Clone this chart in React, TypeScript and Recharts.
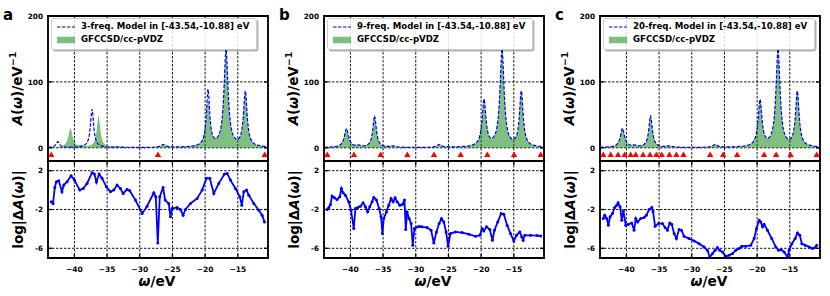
import {
  Area,
  CartesianGrid,
  ComposedChart,
  Line,
  ReferenceArea,
  Scatter,
  XAxis,
  YAxis,
} from "recharts";

const FONT = '"DejaVu Sans", sans-serif';
const BLUE = "#0000ff";
const X_DOMAIN: [number, number] = [-44.04, -10.38];
const X_TICKS = [-40, -35, -30, -25, -20, -15];
const TOP_TICKS = [0, 100, 200];
const BOTTOM_TICKS = [2, -2, -6];
const RANGE_TEXT = "[-43.54,-10.88] eV";

// reference spectral function GFCCSD/cc-pVDZ (shared by the three panels)
const refOmega = [
  -44.0, -43.3, -42.7, -42.2, -41.8, -41.5, -41.25, -41.05, -40.9, -40.75,
  -40.6, -40.45, -40.3, -40.15, -39.95, -39.7, -39.4, -39.1, -38.8, -38.5,
  -38.1, -37.7, -37.3, -37.0, -36.8, -36.6, -36.45, -36.3, -36.15, -36.0,
  -35.8, -35.6, -35.3, -34.9, -34.5, -34.1, -33.75, -33.5, -33.2, -32.8,
  -32.2, -31.5, -30.5, -29.5, -28.5, -27.8, -27.3, -27.0, -26.75, -26.55,
  -26.4, -26.25, -26.05, -25.8, -25.5, -25.0, -24.0, -23.0, -22.0, -21.5,
  -21.0, -20.7, -20.45, -20.25, -20.05, -19.9, -19.75, -19.65, -19.55, -19.45,
  -19.35, -19.2, -19.0, -18.75, -18.45, -18.15, -17.9, -17.65, -17.4, -17.2,
  -17.05, -16.93, -16.8, -16.67, -16.55, -16.4, -16.2, -15.95, -15.65, -15.35,
  -15.1, -14.85, -14.6, -14.4, -14.2, -14.05, -13.95, -13.85, -13.75, -13.65,
  -13.5, -13.3, -13.05, -12.75, -12.4, -12.0, -11.5, -11.0, -10.4,
];
const refA = [
  0.9, 1.1, 1.5, 2.2, 3.3, 5.1, 8.1, 12.8, 18.4, 25.8,
  29.7, 25.8, 18.4, 12.9, 8.3, 5.6, 4.2, 4.2, 4.5, 3.7,
  3.1, 3.5, 5.3, 8.9, 14.5, 26.2, 40.0, 49.2, 40.0, 26.2,
  14.5, 8.8, 5.0, 3.0, 2.3, 2.3, 2.85, 3.1, 2.5, 1.6,
  1.1, 0.85, 0.7, 0.65, 0.8, 1.0, 1.5, 2.2, 3.4, 4.7,
  5.2, 4.7, 3.4, 2.2, 1.9, 1.5, 1.55, 2.0, 2.8, 3.8,
  5.75, 8.0, 11.5, 16.4, 25.6, 37.7, 55.4, 67.6, 73.4, 67.8,
  55.8, 39.3, 25.1, 17.2, 14.5, 15.6, 19.7, 27.5, 44.7, 71.8,
  104.8, 133.5, 149.8, 133.6, 105, 71.5, 44.5, 27, 17.7, 13.9,
  12.9, 14.1, 18.2, 26.1, 42.6, 63.9, 79.1, 86, 78.9, 63.3,
  41.4, 24.2, 14.2, 8.7, 5.7, 4.1, 3.0, 2.3, 1.9,
];
const modelB = [
  0.9, 1.1, 1.5, 2.2, 3.3, 5.1, 8.1, 12.8, 18.4, 25.6,
  29.2, 25.6, 18.4, 12.9, 8.3, 5.6, 4.2, 4.2, 4.5, 3.7,
  3.1, 3.5, 5.3, 8.9, 14.5, 26.0, 39.6, 48.6, 39.6, 26.0,
  14.5, 8.8, 5.0, 3.0, 2.3, 2.3, 2.85, 3.1, 2.5, 1.6,
  1.1, 0.85, 0.7, 0.65, 0.8, 1.0, 1.5, 2.2, 3.4, 4.7,
  5.2, 4.7, 3.4, 2.2, 1.9, 1.5, 1.55, 2.0, 2.8, 3.8,
  5.75, 8.0, 11.5, 16.4, 25.6, 37.9, 55.8, 68.2, 74.0, 68.2,
  55.8, 39.3, 25.1, 17.2, 14.5, 15.6, 19.7, 27.5, 44.7, 71.8,
  104.8, 133.5, 149.8, 133.6, 105, 71.5, 44.5, 27, 17.7, 13.9,
  12.9, 14.1, 18.2, 26.1, 42.6, 64.0, 79.4, 86.4, 79.1, 63.3,
  41.4, 24.2, 14.2, 8.7, 5.7, 4.1, 3.0, 2.3, 1.9,
];
const modelC = [
  0.9, 1.1, 1.5, 2.2, 3.3, 5.1, 8.1, 12.8, 18.4, 25.8,
  29.6, 25.8, 18.4, 12.9, 8.3, 5.6, 4.2, 4.2, 4.5, 3.7,
  3.1, 3.5, 5.3, 8.9, 14.5, 26.1, 39.8, 48.9, 39.8, 26.1,
  14.5, 8.8, 5.0, 3.0, 2.3, 2.3, 2.85, 3.1, 2.5, 1.6,
  1.1, 0.85, 0.7, 0.65, 0.8, 1.0, 1.5, 2.2, 3.4, 4.7,
  5.2, 4.7, 3.4, 2.2, 1.9, 1.5, 1.55, 2.0, 2.8, 3.8,
  5.75, 8.0, 11.5, 16.4, 25.6, 37.8, 55.6, 67.9, 73.6, 67.9,
  55.8, 39.3, 25.1, 17.2, 14.5, 15.6, 19.7, 27.5, 44.7, 71.8,
  104.8, 133.5, 149.8, 133.6, 105, 71.5, 44.5, 27, 17.7, 13.9,
  12.9, 14.1, 18.2, 26.1, 42.6, 63.9, 79.2, 86.2, 79.0, 63.3,
  41.4, 24.2, 14.2, 8.7, 5.7, 4.1, 3.0, 2.3, 1.9,
];

// 3-frequency model (panel a) has its own sampling
const modelAOmega = [
  -44.0, -43.5, -43.1, -42.85, -42.7, -42.55, -42.4, -42.25, -42.0, -41.6,
  -41.0, -40.0, -39.2, -38.6, -38.2, -37.9, -37.7, -37.55, -37.4, -37.3,
  -37.2, -37.05, -36.9, -36.7, -36.4, -36.0, -35.4, -34.5, -33.0, -31.0,
  -29.0, -28.0, -27.3, -27.0, -26.75, -26.55, -26.4, -26.25, -26.05, -25.8,
  -25.5, -25.0, -24.0, -23.0, -22.0, -21.5, -21.0, -20.7, -20.45, -20.25,
  -20.05, -19.9, -19.75, -19.65, -19.55, -19.45, -19.35, -19.2, -19.0, -18.75,
  -18.45, -18.15, -17.9, -17.65, -17.4, -17.2, -17.05, -16.93, -16.8, -16.67,
  -16.55, -16.4, -16.2, -15.95, -15.65, -15.35, -15.1, -14.85, -14.6, -14.4,
  -14.2, -14.05, -13.95, -13.85, -13.75, -13.65, -13.5, -13.3, -13.05, -12.75,
  -12.4, -12.0, -11.5, -11.0, -10.4,
];
const modelA = [
  0.9, 1.3, 2.6, 5.0, 7.7, 9.5, 7.7, 5.0, 2.8, 1.6,
  1.2, 1.2, 1.9, 3.4, 6.2, 11.9, 21, 34.3, 52.5, 58.5,
  52.5, 34.3, 21, 11.9, 6.2, 3.4, 1.9, 1.15, 1.0, 0.8,
  0.75, 0.9, 1.5, 2.2, 3.4, 4.7, 5.2, 4.7, 3.4, 2.2,
  1.9, 1.5, 1.5, 1.9, 2.7, 3.6, 5.4, 7.6, 10.9, 15.8,
  25.4, 39.2, 62.3, 80.2, 89, 80.4, 62.5, 40.6, 24.6, 16.7,
  14.0, 15.5, 19.6, 27.4, 44.6, 71.7, 104.7, 133.4, 149.8, 133.6,
  105, 71.5, 44.5, 27, 17.7, 13.9, 12.9, 14.1, 18.2, 26.1,
  42.6, 64.2, 79.5, 86.5, 79.2, 63.5, 41.4, 24.2, 14.2, 8.7,
  5.7, 4.1, 3.0, 2.3, 1.9,
];

// fitting frequencies (red triangles)
const triA = [-43.54, -27.21, -10.88];
const triB = [-43.54, -39.46, -35.38, -31.29, -27.21, -23.13, -19.05, -14.96, -10.88];
const triC = [
  -43.54, -42.4, -41.28, -40.26, -39.34, -38.58, -37.45, -36.38, -35.41, -34.59,
  -33.42, -32.35, -31.27, -27.19, -25.2, -23.06, -18.93, -17.09, -14.89, -10.88,
];

// log|dA(w)|
const errAOmega = [
  -43.54, -43.27, -43.0, -42.76, -42.4, -41.9, -41.63, -41.12, -40.51, -40.0,
  -39.18, -38.67, -38.06, -37.3, -36.94, -36.63, -36.22, -35.77, -35.1, -34.49,
  -33.98, -33.47, -32.96, -32.55, -31.94, -31.53, -30.66, -29.64, -28.88, -27.86,
  -27.55, -27.24, -26.94, -26.43, -26.12, -25.56, -25.31, -25.05, -24.29, -23.78,
  -23.37, -23.01, -22.24, -21.22, -20.46, -19.8, -19.29, -18.67, -17.91, -17.04,
  -16.63, -16.12, -15.36, -14.69, -14.39, -14.08, -13.67, -13.32, -12.55, -11.79,
  -11.28, -10.92,
];
const errA = [
  -1.2, -1.38, 0.28, 0.86, 0.97, -0.17, 0.52, 0.86, 1.48, 1.03,
  0.0, 0.17, 0.69, 1.79, 1.66, 0.83, 1.66, 1.21, 0.34, -0.17,
  0.0, 0.52, 0.17, -0.34, 0.07, -0.07, -1.03, -2.41, -1.66, -0.28,
  -0.69, -5.45, -0.69, 0.28, -1.03, -1.38, -2.76, -1.9, -1.79, -2.0,
  -2.59, -2.0, -1.38, -0.86, 0.0, 1.21, 1.21, -0.34, 0.69, 1.66,
  1.72, 1.03, 0.17, -0.69, -1.55, -0.17, 0.0, -0.52, -1.38, -2.07,
  -2.59, -3.28,
];
const errBOmega = [
  -43.54, -43.3, -43.05, -42.81, -42.45, -42.04, -41.63, -41.38, -41.12, -40.77,
  -40.26, -39.9, -39.49, -39.23, -38.88, -38.47, -38.06, -37.7, -37.35, -37.04,
  -36.68, -36.43, -36.02, -35.61, -35.31, -35.1, -34.9, -34.49, -34.13, -33.78,
  -33.47, -33.16, -32.86, -32.45, -32.04, -31.73, -31.53, -31.33, -31.02, -30.71,
  -30.46, -30.2, -29.69, -29.4, -29.03, -28.27, -27.65, -27.24, -26.84, -26.43,
  -26.07, -25.71, -25.36, -25.05, -24.69, -23.93, -22.91, -21.89, -20.87, -20.2,
  -19.85, -19.59, -19.18, -18.67, -18.27, -17.96, -17.45, -16.94, -16.53, -16.02,
  -15.51, -15.0, -14.59, -14.08, -13.78, -13.57, -13.32, -12.45, -11.43, -10.88,
];
const errB = [
  -2.0, -1.79, -1.48, -0.62, -0.79, -0.97, -0.69, 0.17, -0.28, -0.52,
  -1.21, -2.07, -3.97, -1.9, -1.79, -1.66, -1.31, -1.72, -2.24, -1.72,
  -1.21, -0.76, -1.03, -1.9, -2.76, -4.48, -2.93, -2.24, -1.55, -0.86,
  -1.21, -0.79, -1.21, -1.55, -1.48, -1.03, -4.07, -2.24, -2.93, -3.45,
  -5.69, -3.97, -3.79, -3.75, -3.79, -3.86, -4.14, -5.45, -4.31, -3.45,
  -2.93, -3.28, -4.31, -5.79, -4.48, -4.31, -4.38, -4.55, -4.76, -4.66,
  -3.97, -4.21, -3.79, -4.07, -5.17, -4.14, -3.28, -2.41, -2.48, -3.62,
  -4.48, -5.24, -4.66, -4.31, -4.83, -5.17, -4.66, -4.66, -4.69, -4.72,
];
const errCOmega = [
  -43.54, -43.32, -43.01, -42.76, -42.5, -42.14, -41.79, -41.48, -41.28, -40.97,
  -40.71, -40.46, -40.1, -39.69, -39.18, -38.83, -38.57, -38.27, -37.81, -37.3,
  -36.94, -36.53, -36.12, -35.92, -35.61, -35.1, -34.49, -34.08, -33.72, -33.37,
  -33.06, -32.7, -32.35, -31.94, -31.58, -31.17, -30.41, -29.64, -28.88, -28.11,
  -27.6, -27.24, -26.84, -26.43, -26.07, -25.71, -25.31, -24.8, -24.29, -23.78,
  -23.27, -22.76, -22.35, -21.73, -20.97, -20.46, -20.1, -19.69, -19.44, -19.18,
  -18.93, -18.42, -17.76, -17.14, -16.73, -16.33, -15.87, -15.36, -15.1, -14.69,
  -14.18, -13.83, -13.47, -13.16, -12.65, -12.04, -11.53, -11.12, -10.88,
];
const errC = [
  -2.93, -2.59, -2.93, -3.62, -2.76, -2.41, -1.79, -1.55, -1.31, -1.72,
  -3.1, -2.14, -3.62, -3.52, -3.38, -4.14, -2.93, -3.28, -2.93, -2.83,
  -2.59, -2.0, -1.79, -2.24, -3.72, -3.45, -3.45, -3.86, -4.14, -3.38,
  -3.52, -4.48, -5.0, -4.07, -4.14, -4.76, -5.0, -5.24, -5.52, -5.86,
  -6.21, -6.9, -6.55, -6.21, -5.93, -6.21, -6.38, -6.83, -6.72, -6.55,
  -6.21, -6.03, -5.79, -5.79, -5.69, -5.0, -3.97, -3.1, -3.28, -3.79,
  -3.52, -4.14, -5.0, -5.86, -6.21, -6.14, -6.38, -6.9, -6.21, -5.52,
  -5.0, -4.41, -4.66, -5.52, -5.69, -5.86, -6.03, -5.93, -5.69,
];

// layout (px)
const PLOT_W = 220;
const AXIS_W = 40;
const M_L = 8;
const M_R = 8;
const CHART_W = M_L + AXIS_W + PLOT_W + M_R;
const P_LEFT = M_L + AXIS_W;
const P_RIGHT = P_LEFT + PLOT_W;
const TOP_Y = 16;
const TOP_H = 145;
const BOT_H = 97;
const XAXIS_H = 38;
const TICK = 4;

const pairs = (xs: number[], ys: number[]) => xs.map((w, i) => ({ w, v: ys[i] }));
const refRows = refOmega.map((w, i) => ({ w, ref: refA[i] }));

const panels = [
  { letter: "a", left: 48, n: 3, model: pairs(modelAOmega, modelA), tri: triA, err: pairs(errAOmega, errA) },
  { letter: "b", left: 324, n: 9, model: pairs(refOmega, modelB), tri: triB, err: pairs(errBOmega, errB) },
  { letter: "c", left: 600, n: 20, model: pairs(refOmega, modelC), tri: triC, err: pairs(errCOmega, errC) },
];

const fmtX = (v: number) => (v < 0 ? "\u2212" + Math.abs(v) : String(v));

const xTick = (top: number, bottom: number, labels: boolean) => (p: any) => (
  <g>
    <line x1={p.x} x2={p.x} y1={bottom} y2={bottom - TICK} stroke="#000" strokeWidth={1.3} />
    <line x1={p.x} x2={p.x} y1={top} y2={top + TICK} stroke="#000" strokeWidth={1.3} />
    {labels && (
      <text x={p.x} y={bottom + 13.7} textAnchor="middle" fontFamily={FONT} fontWeight="bold" fontSize={7.5} fill="#000">
        {fmtX(p.payload.value)}
      </text>
    )}
  </g>
);

const yTick = (p: any) => (
  <g>
    <line x1={P_LEFT} x2={P_LEFT + TICK} y1={p.y} y2={p.y} stroke="#000" strokeWidth={1.3} />
    <line x1={P_RIGHT} x2={P_RIGHT - TICK} y1={p.y} y2={p.y} stroke="#000" strokeWidth={1.3} />
    <text x={P_LEFT - 5} y={p.y + 2.7} textAnchor="end" fontFamily={FONT} fontWeight="bold" fontSize={7.3} fill="#000">
      {String(p.payload.value)}
    </text>
  </g>
);

const Triangle = (p: any) => (
  <polygon
    points={`${p.cx},${p.cy - 3} ${p.cx - 3.2},${p.cy + 2.7} ${p.cx + 3.2},${p.cy + 2.7}`}
    fill="#ff0000"
  />
);

const Bead = (p: any) => <circle cx={p.cx} cy={p.cy} r={1.5} fill={BLUE} />;

function Legend({ n }: { n: number }) {
  return (
    <div
      style={{
        background: "rgba(255,255,255,0.85)",
        border: "1px solid #cccccc",
        borderRadius: 3,
        boxShadow: "1.5px 1.5px 0 rgba(0,0,0,0.3)",
        padding: "1px 7px 2px 5px",
        fontFamily: FONT,
        fontWeight: "bold",
        fontSize: 8.6,
        lineHeight: "13.3px",
        whiteSpace: "nowrap",
      }}
    >
      <div style={{ display: "flex", alignItems: "center" }}>
        <svg width={18} height={8}>
          <line x1={0} x2={18} y1={4} y2={4} stroke={BLUE} strokeWidth={1.2} strokeDasharray="3.5 1.5" />
        </svg>
        <span style={{ marginLeft: 6 }}>{`${n}-freq. Model in ${RANGE_TEXT}`}</span>
      </div>
      <div style={{ display: "flex", alignItems: "center" }}>
        <svg width={18} height={8}>
          <rect x={0} y={0.7} width={18} height={6.6} fill="#008000" fillOpacity={0.5} />
        </svg>
        <span style={{ marginLeft: 6 }}>GFCCSD/cc-pVDZ</span>
      </div>
    </div>
  );
}

function Panel({ cfg }: { cfg: (typeof panels)[number] }) {
  const x0 = cfg.left - P_LEFT;
  const triRows = cfg.tri.map((w) => ({ w, y: -10 }));
  return (
    <>
      <div style={{ position: "absolute", left: x0, top: 0 }}>
        <ComposedChart
          width={CHART_W}
          height={TOP_Y + TOP_H + 2}
          data={refRows}
          margin={{ top: TOP_Y, right: M_R, bottom: 2, left: M_L }}
        >
          <CartesianGrid stroke="#000" strokeWidth={0.9} strokeDasharray="2.5 1.5" />
          <XAxis
            dataKey="w"
            type="number"
            domain={X_DOMAIN}
            ticks={X_TICKS}
            interval={0}
            allowDataOverflow
            height={0}
            axisLine={false}
            tickLine={false}
            tick={xTick(TOP_Y, TOP_Y + TOP_H, false)}
          />
          <YAxis
            type="number"
            domain={[-20, 200]}
            ticks={TOP_TICKS}
            interval={0}
            allowDataOverflow
            width={AXIS_W}
            axisLine={false}
            tickLine={false}
            tick={yTick}
          />
          <Area
            dataKey="ref"
            type="monotone"
            baseValue={0}
            fill="#008000"
            fillOpacity={0.5}
            stroke="none"
            isAnimationActive={false}
          />
          <Line
            data={cfg.model}
            dataKey="v"
            type="monotone"
            stroke={BLUE}
            strokeWidth={1.2}
            strokeDasharray="3.5 1.6"
            dot={false}
            isAnimationActive={false}
          />
          <Scatter data={triRows} dataKey="y" shape={Triangle} isAnimationActive={false} />
          <ReferenceArea x1={X_DOMAIN[0]} x2={X_DOMAIN[1]} y1={-20} y2={200} fill="none" stroke="#000" strokeWidth={1.8} />
        </ComposedChart>
      </div>
      <div style={{ position: "absolute", left: x0, top: TOP_Y + TOP_H - 2 }}>
        <ComposedChart
          width={CHART_W}
          height={BOT_H + XAXIS_H + 2}
          data={cfg.err}
          margin={{ top: 2, right: M_R, bottom: 0, left: M_L }}
        >
          <CartesianGrid stroke="#000" strokeWidth={0.9} strokeDasharray="2.5 1.5" />
          <XAxis
            dataKey="w"
            type="number"
            domain={X_DOMAIN}
            ticks={X_TICKS}
            interval={0}
            allowDataOverflow
            height={XAXIS_H}
            axisLine={false}
            tickLine={false}
            tick={xTick(2, 2 + BOT_H, true)}
          />
          <YAxis
            type="number"
            domain={[-7, 3]}
            ticks={BOTTOM_TICKS}
            interval={0}
            allowDataOverflow
            width={AXIS_W}
            axisLine={false}
            tickLine={false}
            tick={yTick}
          />
          <Line
            dataKey="v"
            type="linear"
            stroke={BLUE}
            strokeWidth={1.8}
            dot={Bead}
            isAnimationActive={false}
          />
          <ReferenceArea x1={X_DOMAIN[0]} x2={X_DOMAIN[1]} y1={-7} y2={3} fill="none" stroke="#000" strokeWidth={1.8} />
        </ComposedChart>
      </div>
      <div style={{ position: "absolute", left: cfg.left + 3, top: 18 }}>
        <Legend n={cfg.n} />
      </div>
    </>
  );
}

function Labels() {
  const topMid = TOP_Y + TOP_H / 2;
  const botMid = TOP_Y + TOP_H + BOT_H / 2;
  return (
    <svg
      width={830}
      height={296}
      style={{ position: "absolute", left: 0, top: 0, pointerEvents: "none" }}
      fontFamily={FONT}
      fontWeight="bold"
    >
      {panels.map((p) => (
        <g key={p.letter}>
          <text x={p.left - 45} y={20} fontSize={15}>
            {p.letter}
          </text>
          <text
            transform={`translate(${p.left - 31},${topMid}) rotate(-90)`}
            textAnchor="middle"
            dominantBaseline="central"
            fontSize={13.5}
          >
            <tspan fontStyle="italic">A</tspan>
            <tspan>(</tspan>
            <tspan fontStyle="italic">ω</tspan>
            <tspan>)/eV</tspan>
            <tspan fontSize={9.5} dy={-5}>
              −1
            </tspan>
          </text>
          <text
            transform={`translate(${p.left - 30},${botMid}) rotate(-90)`}
            textAnchor="middle"
            dominantBaseline="central"
            fontSize={13.5}
          >
            <tspan>log|Δ</tspan>
            <tspan fontStyle="italic">A</tspan>
            <tspan>(</tspan>
            <tspan fontStyle="italic">ω</tspan>
            <tspan>)|</tspan>
          </text>
          <text x={p.left + PLOT_W / 2 - 1} y={286} textAnchor="middle" fontSize={13.7}>
            <tspan fontStyle="italic">ω</tspan>
            <tspan>/eV</tspan>
          </text>
        </g>
      ))}
    </svg>
  );
}

export default function App() {
  return (
    <div style={{ position: "absolute", left: 0, top: 0, width: 830, height: 296, background: "#fff" }}>
      {panels.map((p) => (
        <Panel key={p.letter} cfg={p} />
      ))}
      <Labels />
    </div>
  );
}
